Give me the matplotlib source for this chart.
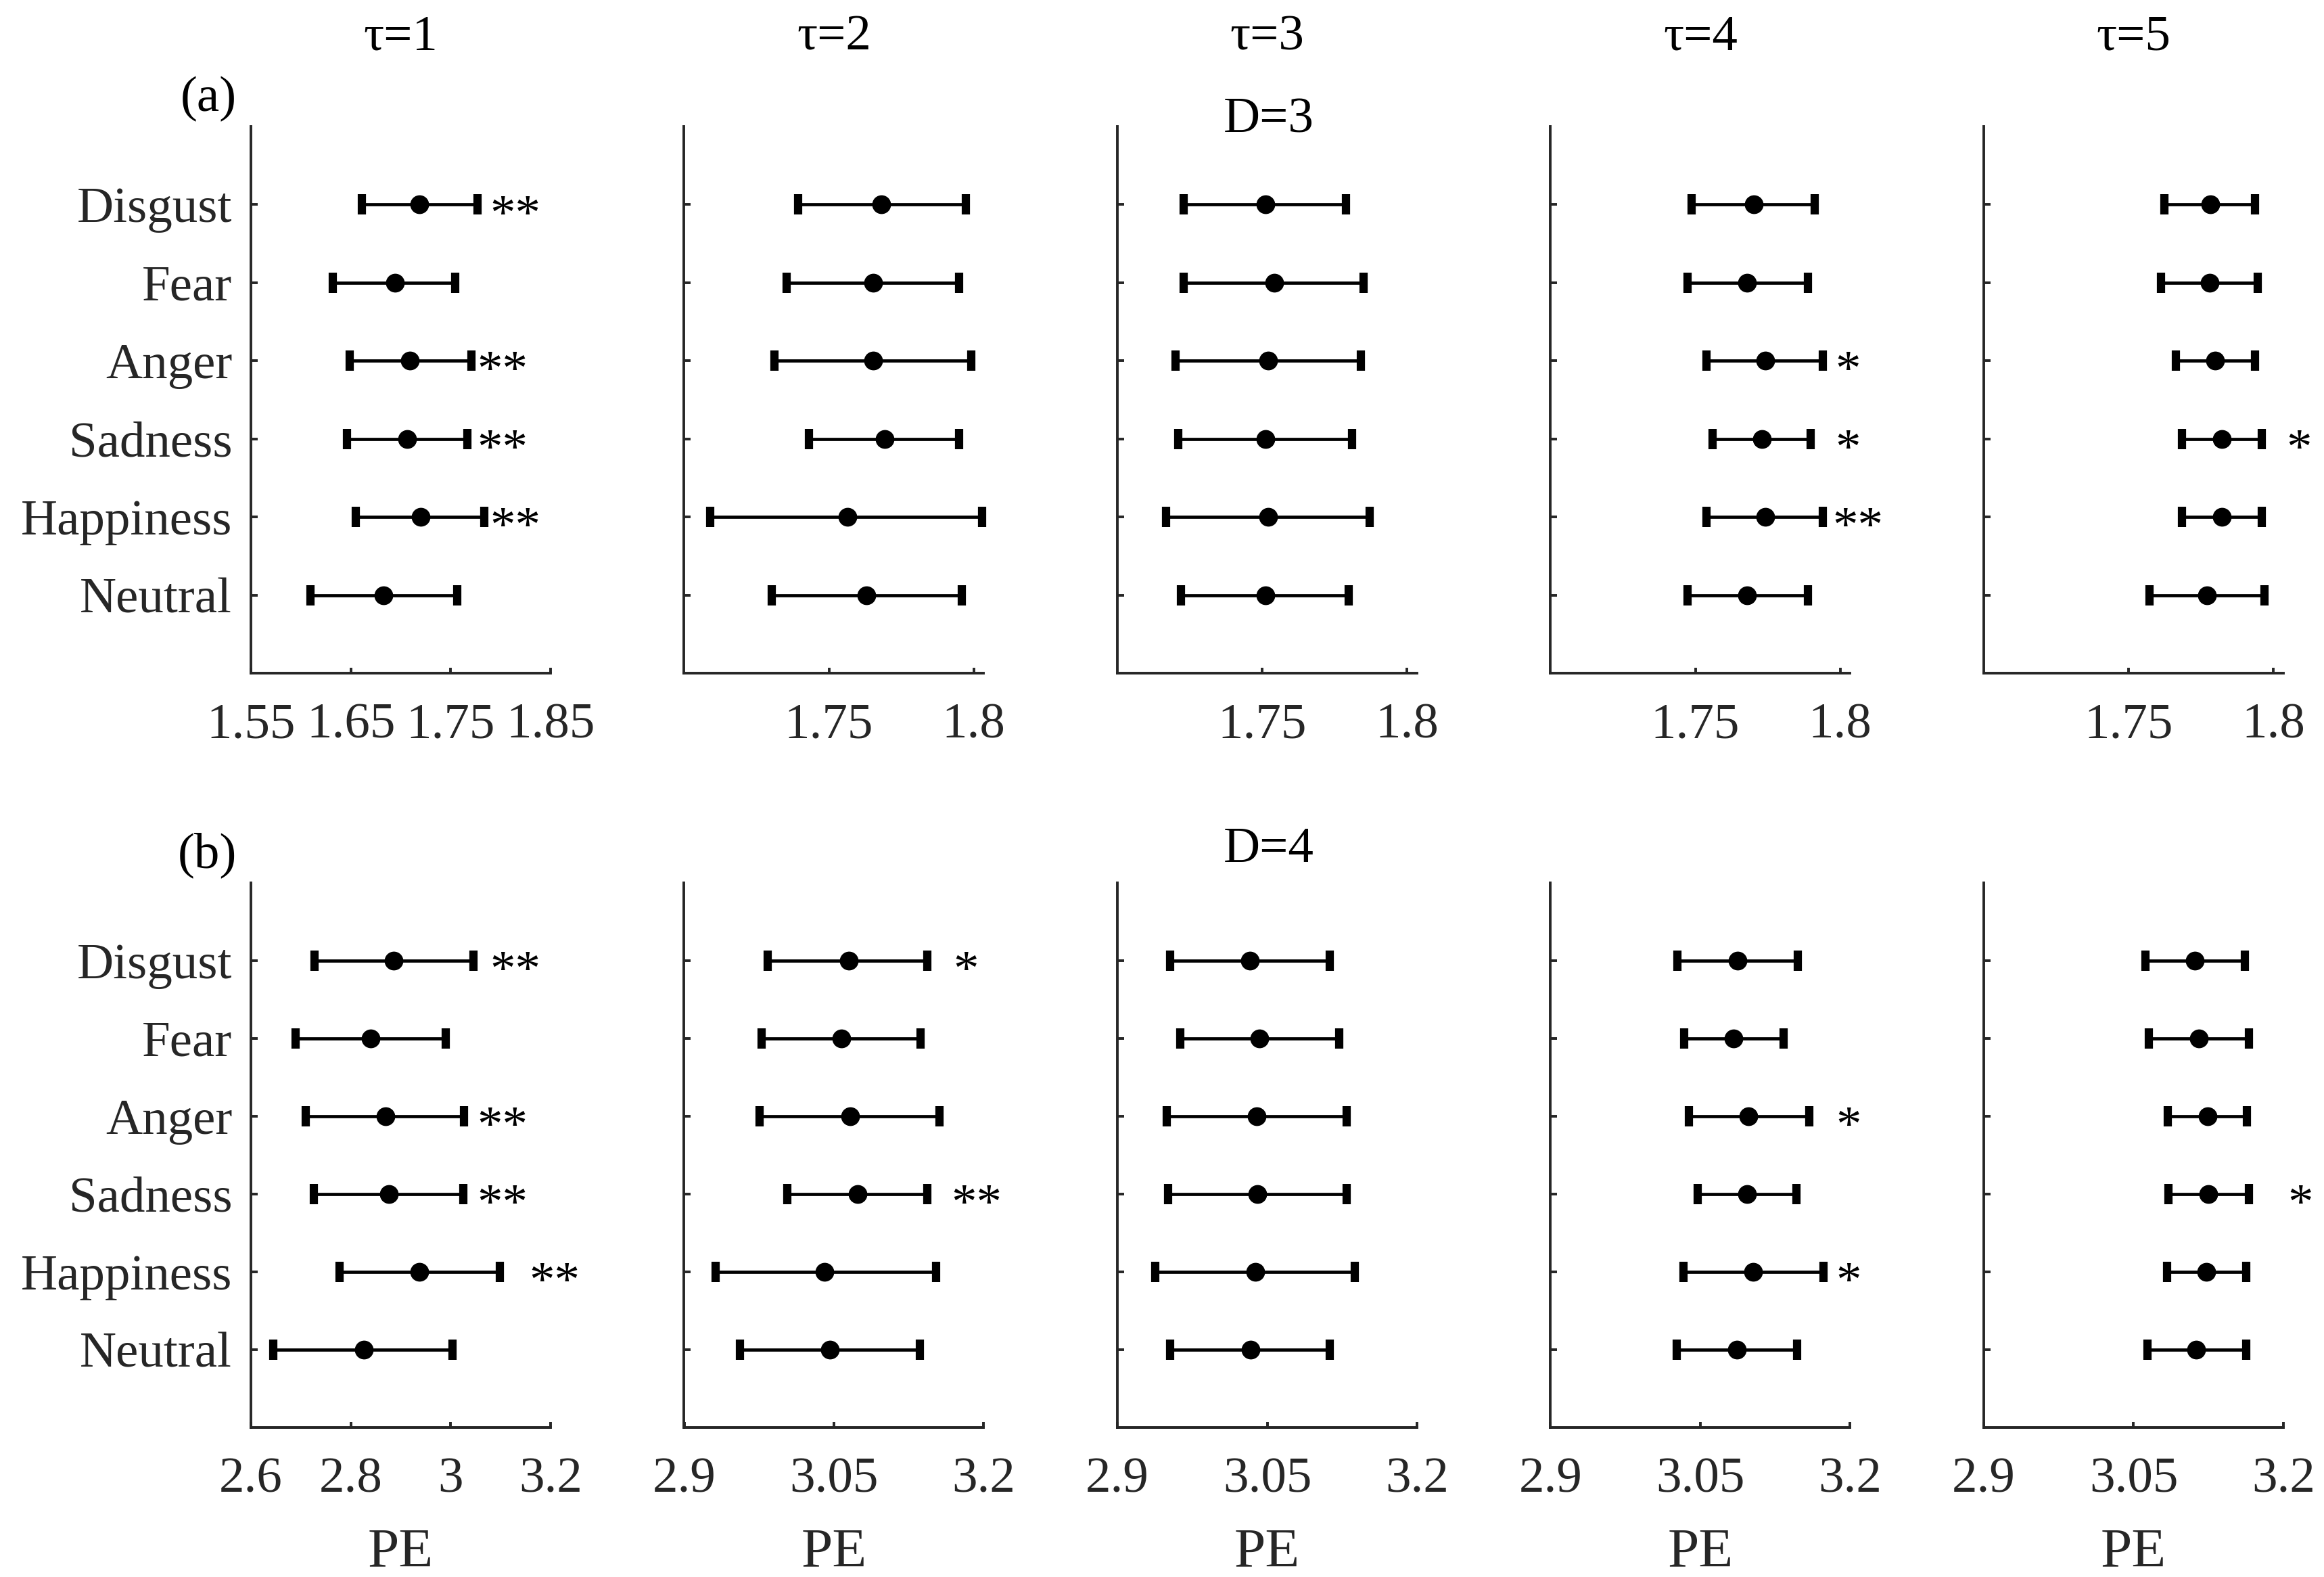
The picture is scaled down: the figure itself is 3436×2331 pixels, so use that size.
import numpy as np
import matplotlib.pyplot as plt

# Categories and panels
emotions = ['Disgust', 'Fear', 'Anger', 'Sadness', 'Happiness', 'Neutral']
taus = [1, 2, 3, 4, 5]

# D=3: mean and interval bounds, one list per tau
d3_mean = [[1.7189, 1.6940, 1.7094, 1.7064, 1.7197, 1.6828],
           [1.7681, 1.7653, 1.7653, 1.7692, 1.7564, 1.7630],
           [1.7511, 1.7541, 1.7521, 1.7511, 1.7521, 1.7511],
           [1.7701, 1.7678, 1.7742, 1.7731, 1.7742, 1.7678],
           [1.7782, 1.7780, 1.7800, 1.7822, 1.7822, 1.7771]]
d3_low = [[1.6609, 1.6321, 1.6488, 1.6463, 1.6549, 1.6097],
          [1.7393, 1.7354, 1.7313, 1.7432, 1.7091, 1.7302],
          [1.7230, 1.7230, 1.7200, 1.7211, 1.7168, 1.7220],
          [1.7487, 1.7473, 1.7538, 1.7559, 1.7538, 1.7473],
          [1.7624, 1.7613, 1.7664, 1.7684, 1.7684, 1.7573]]
d3_high = [[1.7769, 1.7546, 1.7705, 1.7670, 1.7833, 1.7563],
           [1.7972, 1.7950, 1.7991, 1.7950, 1.8030, 1.7959],
           [1.7789, 1.7851, 1.7840, 1.7810, 1.7871, 1.7800],
           [1.7912, 1.7890, 1.7941, 1.7899, 1.7941, 1.7890],
           [1.7938, 1.7947, 1.7938, 1.7960, 1.7960, 1.7969]]

# D=4
d4_mean = [[2.886, 2.840, 2.869, 2.876, 2.937, 2.826],
           [3.0646, 3.0573, 3.0661, 3.0740, 3.0406, 3.0458],
           [3.0325, 3.0423, 3.0392, 3.0402, 3.0381, 3.0335],
           [3.0872, 3.0835, 3.0984, 3.0968, 3.1027, 3.0867],
           [3.1116, 3.1153, 3.1239, 3.1250, 3.1228, 3.1127]]
d4_low = [[2.727, 2.690, 2.710, 2.726, 2.778, 2.645],
          [2.9833, 2.9776, 2.9755, 3.0036, 2.9313, 2.9557],
          [2.9526, 2.9629, 2.9495, 2.9505, 2.9381, 2.9531],
          [3.0271, 3.0340, 3.0388, 3.0473, 3.0330, 3.0266],
          [3.0618, 3.0655, 3.0843, 3.0848, 3.0832, 3.0639]]
d4_high = [[3.046, 2.990, 3.027, 3.025, 3.098, 3.004],
           [3.1432, 3.1370, 3.1557, 3.1432, 3.1521, 3.1359],
           [3.1124, 3.1222, 3.1294, 3.1299, 3.1376, 3.1129],
           [3.1473, 3.1335, 3.1590, 3.1463, 3.1734, 3.1468],
           [3.1614, 3.1657, 3.1636, 3.1652, 3.1625, 3.1625]]

# Significance marks: (tau index, emotion, label, x in data units)
d3_sig = [(0, 'Disgust', '**', 1.8147), (0, 'Anger', '**', 1.8018),
          (0, 'Sadness', '**', 1.8018), (0, 'Happiness', '**', 1.8147),
          (3, 'Anger', '*', 1.8027), (3, 'Sadness', '*', 1.8027),
          (3, 'Happiness', '**', 1.8062), (4, 'Sadness', '*', 1.8089)]
d4_sig = [(0, 'Disgust', '**', 3.129), (0, 'Anger', '**', 3.103),
          (0, 'Sadness', '**', 3.103), (0, 'Happiness', '**', 3.208),
          (1, 'Disgust', '*', 3.1823), (1, 'Sadness', '**', 3.193),
          (3, 'Anger', '*', 3.1984), (3, 'Happiness', '*', 3.1984),
          (4, 'Sadness', '*', 3.2171)]

# Axis ranges and ticks
d3_xlim = [(1.55, 1.85)] + [(1.70, 1.8035)] * 4
d3_ticks = [[1.55, 1.65, 1.75, 1.85]] + [[1.75, 1.8]] * 4
d3_ticklabels = [['1.55', '1.65', '1.75', '1.85']] + [['1.75', '1.8']] * 4
d4_xlim = [(2.6, 3.2)] + [(2.9, 3.2)] * 4
d4_ticks = [[2.6, 2.8, 3.0, 3.2]] + [[2.9, 3.05, 3.2]] * 4
d4_ticklabels = [['2.6', '2.8', '3', '3.2']] + [['2.9', '3.05', '3.2']] * 4

plt.rcParams['font.family'] = ['Liberation Serif', 'DejaVu Serif']
GRAY = '#262626'
W, H = 3437, 2331
DPI = 200

fig = plt.figure(figsize=(W / DPI, H / DPI), dpi=DPI)

# Pixel geometry of panels
x0, pitch, pw = 371, 640.5, 443
rows = [(187, 995), (1305, 2110)]
ypos = np.arange(len(emotions), 0, -1)


def fx(px):
    return px / W


def fy(py):
    return 1 - py / H


def draw_row(row, means, lows, highs, sigs, xlims, ticks, ticklabels, plabel, xlabel):
    top, bot = rows[row]
    axes = []
    for k in range(len(taus)):
        ax = fig.add_axes([fx(x0 + k * pitch), fy(bot), fx(pw), (bot - top) / H])
        m = np.array(means[k])
        lo = np.array(lows[k])
        hi = np.array(highs[k])
        ax.errorbar(m, ypos, xerr=[m - lo, hi - m], fmt='o', color='k',
                    ms=9, elinewidth=1.7, capsize=5.3, capthick=4.4, clip_on=False)
        ax.set_xlim(*xlims[k])
        ax.set_ylim(0, 7)
        ax.set_xticks(ticks[k])
        ax.set_xticklabels(ticklabels[k])
        ax.set_yticks(ypos)
        if k == 0:
            ax.set_yticklabels(emotions)
        else:
            ax.set_yticklabels([])
        for s in ['top', 'right']:
            ax.spines[s].set_visible(False)
        for s in ['left', 'bottom']:
            ax.spines[s].set_linewidth(1.4)
            ax.spines[s].set_color(GRAY)
        ax.tick_params(axis='x', direction='in', length=3, width=1.4, pad=16,
                       labelsize=27, colors=GRAY)
        ax.tick_params(axis='y', direction='in', length=3.6, width=1.4, pad=10,
                       labelsize=27, colors=GRAY)
        if xlabel:
            ax.set_xlabel('PE', fontsize=30, color=GRAY, labelpad=13)
        axes.append(ax)

    # Significance stars
    for k, emo, lab, xs in sigs:
        yy = ypos[emotions.index(emo)]
        axes[k].annotate(lab, (xs, yy), xytext=(0, -13), textcoords='offset points',
                         ha='center', va='baseline', fontsize=27, color='k',
                         annotation_clip=False)

    # Panel letter
    fig.text(fx(350), fy(top - 23), plabel, ha='right', va='baseline', fontsize=27)
    return axes


draw_row(0, d3_mean, d3_low, d3_high, d3_sig, d3_xlim, d3_ticks, d3_ticklabels,
         '(a)', False)
draw_row(1, d4_mean, d4_low, d4_high, d4_sig, d4_xlim, d4_ticks, d4_ticklabels,
         '(b)', True)

# Column titles
for k, t in enumerate(taus):
    fig.text(fx(x0 + k * pitch + pw / 2), fy(73), f'τ={t}', ha='center',
             va='baseline', fontsize=27)

# Embedding dimension labels above the middle column
fig.text(fx(1876), fy(195), 'D=3', ha='center', va='baseline', fontsize=27)
fig.text(fx(1876), fy(1274), 'D=4', ha='center', va='baseline', fontsize=27)

fig.savefig('out.png', dpi=DPI)
